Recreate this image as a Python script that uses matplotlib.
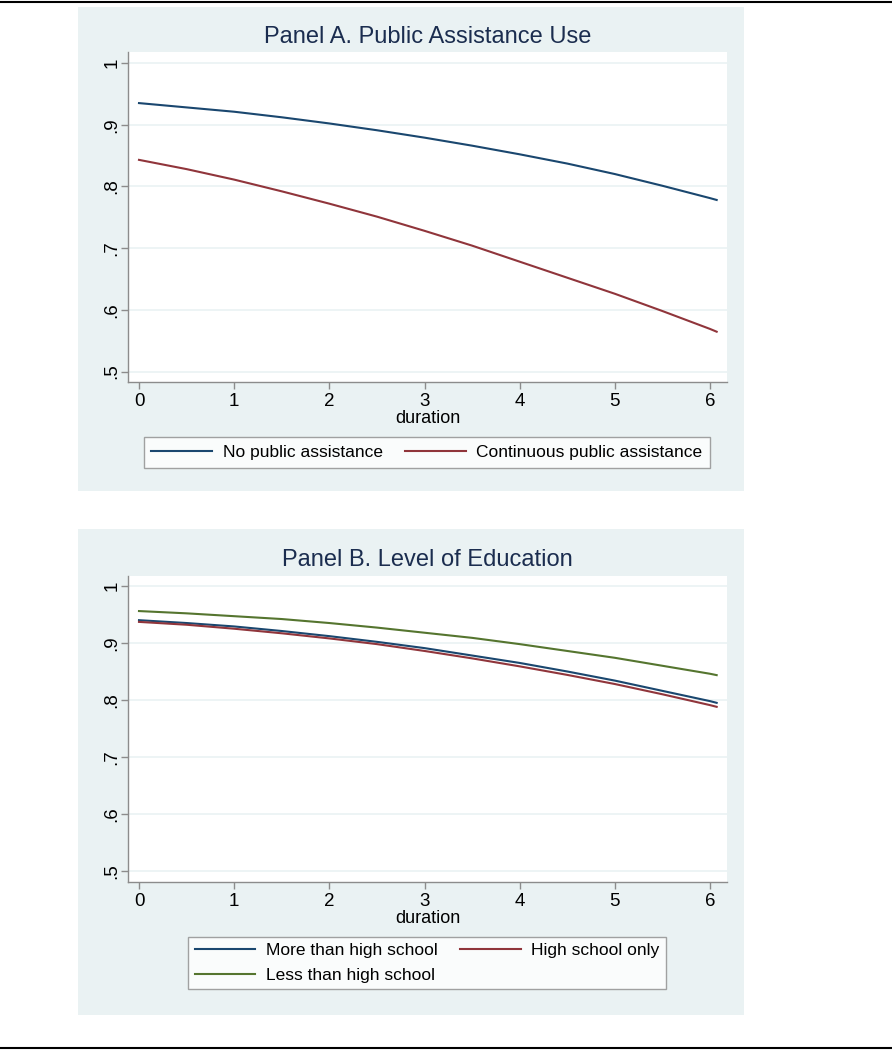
import matplotlib
matplotlib.use("Agg")
from matplotlib import pyplot as plt
from matplotlib.patches import Rectangle
from matplotlib.lines import Line2D

plt.rcParams['font.family'] = ['Liberation Sans', 'DejaVu Sans']

# values
duration = [0, 0.5, 1, 1.5, 2, 2.5, 3, 3.5, 4, 4.5, 5, 5.5, 6, 6.07]

no_pa = [0.935, 0.928, 0.921, 0.912, 0.902, 0.891, 0.879, 0.866, 0.852,
         0.837, 0.820, 0.801, 0.781, 0.778]
cont_pa = [0.843, 0.828, 0.811, 0.792, 0.772, 0.751, 0.728, 0.704, 0.678,
           0.652, 0.626, 0.598, 0.569, 0.5645]

more_hs = [0.940, 0.935, 0.929, 0.921, 0.912, 0.902, 0.891, 0.878, 0.865,
           0.850, 0.834, 0.816, 0.798, 0.795]
hs_only = [0.937, 0.932, 0.925, 0.917, 0.908, 0.898, 0.886, 0.873, 0.859,
           0.844, 0.828, 0.810, 0.791, 0.788]
less_hs = [0.956, 0.952, 0.947, 0.942, 0.935, 0.927, 0.918, 0.909, 0.898,
           0.886, 0.874, 0.860, 0.846, 0.8436]

xticks = [0, 1, 2, 3, 4, 5, 6]
yticks = [0.5, 0.6, 0.7, 0.8, 0.9, 1.0]
ylabels = ['.5', '.6', '.7', '.8', '.9', '1']

navy = '#1a476f'
maroon = '#90353b'
green = '#55752f'
bg = '#eaf2f3'
title_col = '#1b2d4f'

W, H = 892, 1050


def fx(px):
    return px / W


def fy(py):
    return 1 - py / H


def style_axes(ax, ylo, yhi):
    ax.set_xlim(-0.1156, 6.1786)
    ax.set_ylim(ylo, yhi)
    ax.set_xticks(xticks)
    ax.set_xticklabels([str(t) for t in xticks], fontsize=13.5)
    ax.set_yticks(yticks)
    ax.set_yticklabels(ylabels, fontsize=13.5, rotation=90, va='center')
    for s in ['top', 'right']:
        ax.spines[s].set_visible(False)
    for s in ['left', 'bottom']:
        ax.spines[s].set_color('#8c8c8c')
        ax.spines[s].set_linewidth(1.0)
    ax.tick_params(direction='out', length=5, width=1, color='#8c8c8c', pad=3)
    ax.tick_params(axis='y', pad=0.5)
    ax.grid(axis='y', color=bg, linewidth=1.2)
    ax.set_axisbelow(True)
    ax.set_facecolor('white')
    ax.set_xlabel('duration', fontsize=13, labelpad=0)


fig = plt.figure(figsize=(W / 100, H / 100), dpi=100)

# panel backgrounds
fig.add_artist(Rectangle((fx(78), fy(491)), fx(744 - 78), (491 - 7) / H,
                         facecolor=bg, edgecolor='none', zorder=0))
fig.add_artist(Rectangle((fx(78), fy(1015)), fx(744 - 78), (1015 - 529) / H,
                         facecolor=bg, edgecolor='none', zorder=0))
# rules at top and bottom
fig.add_artist(Line2D([0, 1], [fy(2), fy(2)], color='black', linewidth=1.5))
fig.add_artist(Line2D([0, 1], [fy(1048), fy(1048)], color='black', linewidth=1.5))

# Panel A
ax1 = fig.add_axes([fx(128), fy(382), fx(727 - 128), (382 - 52) / H])
ax1.plot(duration, no_pa, color=navy, linewidth=1.5, label='No public assistance')
ax1.plot(duration, cont_pa, color=maroon, linewidth=1.5, label='Continuous public assistance')
style_axes(ax1, 0.483, 1.0178)
fig.text(fx(427.5), fy(37), 'Panel A. Public Assistance Use', fontsize=17,
         color=title_col, ha='center', va='center')
leg1 = ax1.legend(loc='center', bbox_to_anchor=(fx(427), fy(452.5)),
                  bbox_transform=fig.transFigure, ncol=2, fontsize=12.5,
                  frameon=True, fancybox=False, edgecolor='#8c8c8c',
                  handlelength=3.5, handletextpad=0.6, columnspacing=1.3,
                  borderpad=0.45, borderaxespad=0)
leg1.get_frame().set_linewidth(1.0)

# Panel B
ax2 = fig.add_axes([fx(128), fy(882), fx(727 - 128), (882 - 576) / H])
l_more, = ax2.plot(duration, more_hs, color=navy, linewidth=1.5, label='More than high school')
l_hs, = ax2.plot(duration, hs_only, color=maroon, linewidth=1.5, label='High school only')
l_less, = ax2.plot(duration, less_hs, color=green, linewidth=1.5, label='Less than high school')
style_axes(ax2, 0.4807, 1.0175)
fig.text(fx(427.5), fy(560), 'Panel B. Level of Education', fontsize=17,
         color=title_col, ha='center', va='center')
leg2 = ax2.legend(handles=[l_more, l_less, l_hs], loc='center',
                  bbox_to_anchor=(fx(427), fy(963)), bbox_transform=fig.transFigure,
                  ncol=2, fontsize=12.5, frameon=True, fancybox=False,
                  edgecolor='#8c8c8c', handlelength=3.5, handletextpad=0.6,
                  columnspacing=1.3, borderpad=0.35, borderaxespad=0,
                  labelspacing=0.55)
leg2.get_frame().set_linewidth(1.0)

plt.savefig('out.png', dpi=100)
